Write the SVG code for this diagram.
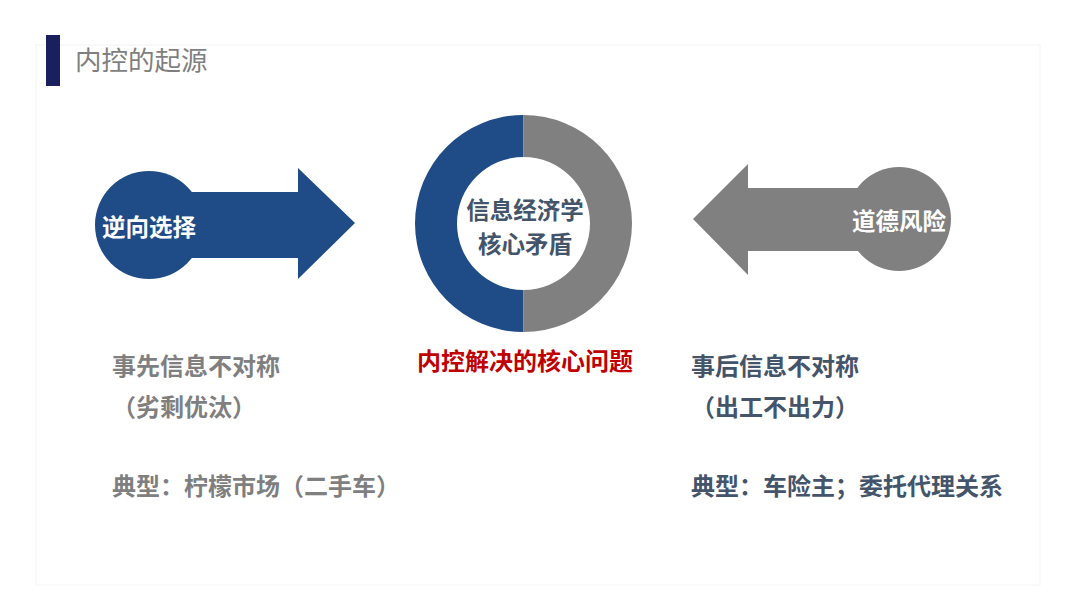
<svg xmlns="http://www.w3.org/2000/svg" width="1080" height="608" viewBox="0 0 1080 608">
  <style>
    .cjk { font-family: "Noto Sans CJK SC", "Noto Sans", sans-serif; }
    .b { font-weight: bold; }
    .w { fill: #ffffff; }
    .g { fill: #7f7f7f; }
    .d { fill: #44546a; }
    .blue { fill: #1f4b87; }
    .gray { fill: #808080; }
  </style>
  <rect x="0" y="0" width="1080" height="608" fill="#ffffff"/>
  <rect x="36" y="45" width="1004" height="540" fill="#ffffff" stroke="#f4f4f4" stroke-width="1"/>

  <g id="title">
    <rect x="46" y="35" width="14" height="51" fill="#1a1f5e"/>
    <text x="75" y="70" class="cjk" font-size="26.5" fill="#7f7f7f">内控的起源</text>
  </g>

  <g id="connectors"></g>

  <g id="adverse-selection">
    <circle cx="149" cy="225" r="54" class="blue"/>
    <polygon points="190,192 298,192 298,168 355,223 298,279 298,258 190,258" class="blue"/>
    <text x="149" y="236" class="cjk b w" font-size="23.5" text-anchor="middle">逆向选择</text>
  </g>

  <g id="core">
    <path d="M523.5,115 A108.5,108.5 0 0 0 523.5,332 L523.5,290 A66.5,66.5 0 0 1 523.5,157 Z" class="blue"/>
    <path d="M523.5,115 A108.5,108.5 0 0 1 523.5,332 L523.5,290 A66.5,66.5 0 0 0 523.5,157 Z" class="gray"/>
    <text x="525" y="219" class="cjk b d" font-size="23.5" text-anchor="middle">信息经济学</text>
    <text x="525" y="253" class="cjk b d" font-size="23.5" text-anchor="middle">核心矛盾</text>
    <text x="525" y="370" class="cjk b" font-size="24" fill="#c00000" text-anchor="middle">内控解决的核心问题</text>
  </g>

  <g id="moral-hazard">
    <circle cx="899" cy="219" r="52" class="gray"/>
    <polygon points="860,188 748,188 748,164 693,219 748,275 748,251 860,251" class="gray"/>
    <text x="899" y="230" class="cjk b w" font-size="23.5" text-anchor="middle">道德风险</text>
  </g>

  <g id="left-notes">
    <text x="112" y="375" class="cjk b g" font-size="24">事先信息不对称</text>
    <text x="112" y="416" class="cjk b g" font-size="24">（劣剩优汰）</text>
    <text x="112" y="495" class="cjk b g" font-size="24">典型：柠檬市场（二手车）</text>
  </g>

  <g id="right-notes">
    <text x="691" y="375" class="cjk b d" font-size="24">事后信息不对称</text>
    <text x="691" y="416" class="cjk b d" font-size="24">（出工不出力）</text>
    <text x="691" y="495" class="cjk b d" font-size="24">典型：车险主；委托代理关系</text>
  </g>
</svg>
